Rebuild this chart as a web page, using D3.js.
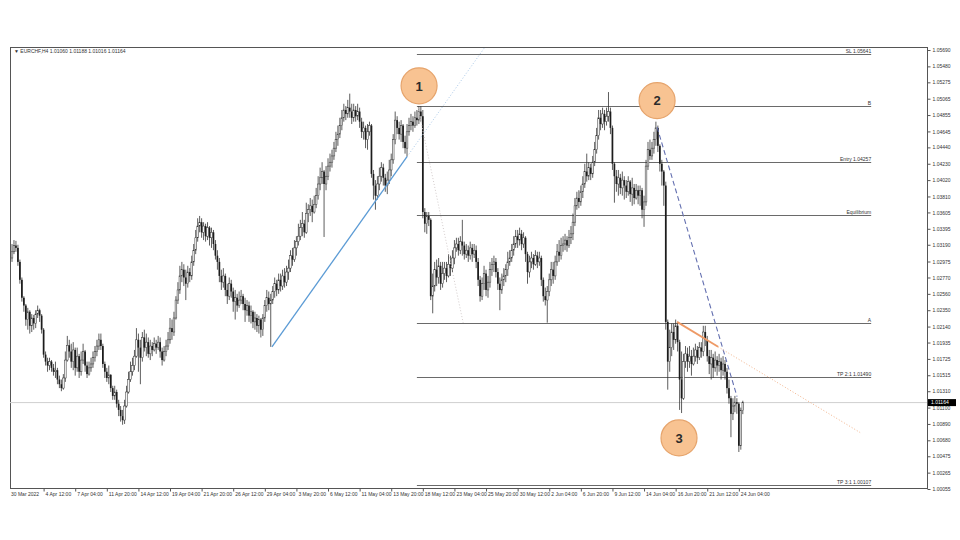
<!DOCTYPE html>
<html><head><meta charset="utf-8">
<script src="https://cdn.jsdelivr.net/npm/d3@7/dist/d3.min.js"></script>
<style>body{margin:0;background:#fff}svg{display:block}text{font-family:"Liberation Sans",Arial,sans-serif}</style>
</head><body><svg id="c" width="960" height="540"></svg>
<script>
const symbol = "EURCHF,H4";
const firstOpen = 1.0302;
const closes = [
1.0310,1.0318,1.0315,1.0297,1.0274,1.0251,1.0241,1.0223,1.0233,1.0215,
1.0225,1.0218,1.0230,1.0235,1.0228,1.0210,1.0178,1.0169,1.0164,1.0169,
1.0161,1.0156,1.0158,1.0146,1.0140,1.0135,1.0148,1.0171,1.0190,1.0182,
1.0169,1.0184,1.0161,1.0176,1.0156,1.0171,1.0182,1.0164,1.0153,1.0161,
1.0166,1.0174,1.0182,1.0189,1.0197,1.0189,1.0166,1.0156,1.0148,1.0152,
1.0135,1.0125,1.0130,1.0115,1.0107,1.0099,1.0094,1.0112,1.0130,1.0146,
1.0156,1.0164,1.0176,1.0197,1.0187,1.0174,1.0200,1.0187,1.0194,1.0179,
1.0189,1.0184,1.0192,1.0187,1.0194,1.0182,1.0171,1.0182,1.0189,1.0197,
1.0212,1.0207,1.0225,1.0248,1.0261,1.0279,1.0287,1.0277,1.0269,1.0284,
1.0279,1.0297,1.0312,1.0328,1.0343,1.0348,1.0335,1.0343,1.0330,1.0341,
1.0328,1.0335,1.0320,1.0305,1.0297,1.0279,1.0271,1.0279,1.0261,1.0253,
1.0269,1.0259,1.0246,1.0251,1.0241,1.0248,1.0253,1.0243,1.0235,1.0241,
1.0228,1.0233,1.0220,1.0225,1.0215,1.0223,1.0210,1.0225,1.0241,1.0251,
1.0243,1.0248,1.0259,1.0269,1.0261,1.0274,1.0266,1.0279,1.0271,1.0284,
1.0289,1.0305,1.0300,1.0315,1.0323,1.0330,1.0341,1.0346,1.0335,1.0359,
1.0364,1.0369,1.0361,1.0371,1.0382,1.0397,1.0405,1.0413,1.0397,1.0407,
1.0420,1.0425,1.0433,1.0443,1.0454,1.0461,1.0472,1.0482,1.0492,1.0487,
1.0495,1.0490,1.0482,1.0492,1.0484,1.0490,1.0477,1.0464,1.0469,1.0454,
1.0464,1.0472,1.0410,1.0395,1.0382,1.0397,1.0407,1.0418,1.0405,1.0395,
1.0402,1.0415,1.0428,1.0454,1.0479,1.0469,1.0461,1.0472,1.0451,1.0443,
1.0464,1.0472,1.0477,1.0472,1.0482,1.0479,1.0490,1.0484,1.0361,1.0346,
1.0356,1.0351,1.0253,1.0266,1.0287,1.0277,1.0292,1.0269,1.0282,1.0289,
1.0279,1.0294,1.0289,1.0302,1.0315,1.0320,1.0312,1.0323,1.0318,1.0307,
1.0312,1.0305,1.0315,1.0307,1.0312,1.0297,1.0274,1.0253,1.0269,1.0282,
1.0261,1.0271,1.0287,1.0294,1.0297,1.0284,1.0269,1.0261,1.0274,1.0279,
1.0287,1.0297,1.0302,1.0312,1.0320,1.0330,1.0325,1.0333,1.0320,1.0328,
1.0307,1.0284,1.0297,1.0302,1.0294,1.0305,1.0297,1.0302,1.0274,1.0253,
1.0248,1.0259,1.0274,1.0287,1.0279,1.0297,1.0310,1.0305,1.0318,1.0320,
1.0325,1.0318,1.0328,1.0333,1.0348,1.0369,1.0379,1.0374,1.0387,1.0397,
1.0413,1.0407,1.0418,1.0410,1.0425,1.0441,1.0459,1.0482,1.0474,1.0487,
1.0477,1.0484,1.0490,1.0469,1.0423,1.0407,1.0397,1.0405,1.0392,1.0402,
1.0395,1.0387,1.0400,1.0384,1.0392,1.0379,1.0389,1.0382,1.0389,1.0364,
1.0374,1.0420,1.0441,1.0433,1.0443,1.0454,1.0469,1.0446,1.0423,1.0413,
1.0395,1.0220,1.0169,1.0187,1.0207,1.0197,1.0215,1.0194,1.0146,1.0122,
1.0169,1.0179,1.0169,1.0176,1.0166,1.0176,1.0184,1.0174,1.0187,1.0182,
1.0207,1.0197,1.0176,1.0166,1.0174,1.0161,1.0171,1.0164,1.0169,1.0158,
1.0166,1.0156,1.0135,1.0122,1.0102,1.0112,1.0117,1.0115,1.0061,1.0106,
1.01164];
const highs = [
1.0320,1.0325,1.0324,1.0319,1.0300,1.0277,1.0253,1.0243,1.0238,1.0235,
1.0230,1.0229,1.0235,1.0241,1.0237,1.0230,1.0212,1.0182,1.0174,1.0174,
1.0171,1.0166,1.0169,1.0161,1.0151,1.0146,1.0153,1.0182,1.0202,1.0197,
1.0192,1.0194,1.0187,1.0187,1.0179,1.0182,1.0192,1.0184,1.0169,1.0169,
1.0174,1.0182,1.0189,1.0197,1.0205,1.0205,1.0192,1.0169,1.0161,1.0164,
1.0153,1.0138,1.0138,1.0133,1.0120,1.0112,1.0107,1.0120,1.0138,1.0156,
1.0169,1.0174,1.0184,1.0212,1.0205,1.0197,1.0207,1.0210,1.0205,1.0200,
1.0197,1.0194,1.0200,1.0197,1.0202,1.0200,1.0187,1.0189,1.0197,1.0207,
1.0225,1.0223,1.0233,1.0253,1.0271,1.0292,1.0297,1.0294,1.0287,1.0292,
1.0289,1.0305,1.0320,1.0338,1.0353,1.0356,1.0353,1.0348,1.0346,1.0348,
1.0343,1.0341,1.0338,1.0325,1.0312,1.0302,1.0287,1.0289,1.0282,1.0269,
1.0277,1.0274,1.0264,1.0261,1.0256,1.0259,1.0261,1.0256,1.0251,1.0248,
1.0246,1.0241,1.0235,1.0233,1.0230,1.0228,1.0225,1.0230,1.0248,1.0261,
1.0259,1.0256,1.0266,1.0277,1.0274,1.0282,1.0282,1.0287,1.0289,1.0292,
1.0300,1.0312,1.0315,1.0325,1.0330,1.0346,1.0351,1.0361,1.0351,1.0373,
1.0371,1.0379,1.0377,1.0382,1.0392,1.0407,1.0418,1.0425,1.0415,1.0420,
1.0430,1.0436,1.0441,1.0451,1.0464,1.0472,1.0482,1.0492,1.0500,1.0497,
1.0505,1.0513,1.0500,1.0500,1.0497,1.0500,1.0495,1.0482,1.0477,1.0472,
1.0474,1.0477,1.0474,1.0415,1.0402,1.0407,1.0418,1.0425,1.0423,1.0410,
1.0413,1.0428,1.0436,1.0461,1.0490,1.0484,1.0477,1.0479,1.0474,1.0459,
1.0474,1.0482,1.0487,1.0484,1.0490,1.0492,1.0497,1.0497,1.0492,1.0366,
1.0361,1.0361,1.0353,1.0282,1.0297,1.0300,1.0302,1.0297,1.0297,1.0297,
1.0297,1.0307,1.0305,1.0312,1.0325,1.0328,1.0328,1.0330,1.0351,1.0323,
1.0320,1.0318,1.0323,1.0320,1.0320,1.0318,1.0302,1.0279,1.0277,1.0292,
1.0287,1.0279,1.0297,1.0302,1.0305,1.0302,1.0289,1.0277,1.0282,1.0289,
1.0294,1.0310,1.0312,1.0320,1.0330,1.0338,1.0338,1.0341,1.0338,1.0335,
1.0330,1.0310,1.0305,1.0310,1.0307,1.0312,1.0310,1.0310,1.0305,1.0277,
1.0264,1.0266,1.0282,1.0297,1.0297,1.0305,1.0320,1.0325,1.0328,1.0330,
1.0333,1.0330,1.0338,1.0343,1.0359,1.0379,1.0387,1.0389,1.0395,1.0407,
1.0423,1.0436,1.0425,1.0423,1.0433,1.0451,1.0469,1.0492,1.0492,1.0495,
1.0492,1.0495,1.0515,1.0495,1.0472,1.0425,1.0415,1.0415,1.0410,1.0413,
1.0407,1.0402,1.0407,1.0402,1.0405,1.0397,1.0397,1.0395,1.0395,1.0392,
1.0382,1.0428,1.0451,1.0454,1.0451,1.0464,1.0477,1.0472,1.0448,1.0428,
1.0415,1.0400,1.0223,1.0210,1.0218,1.0218,1.0223,1.0220,1.0197,1.0182,
1.0179,1.0189,1.0187,1.0189,1.0184,1.0187,1.0192,1.0189,1.0194,1.0194,
1.0215,1.0215,1.0202,1.0184,1.0184,1.0179,1.0182,1.0176,1.0179,1.0174,
1.0176,1.0171,1.0161,1.0146,1.0125,1.0122,1.0125,1.0122,1.0117,1.0110,
1.01188];
const lows = [
1.0297,1.0307,1.0310,1.0292,1.0269,1.0246,1.0233,1.0215,1.0210,1.0205,
1.0207,1.0210,1.0212,1.0225,1.0220,1.0205,1.0174,1.0164,1.0156,1.0158,
1.0156,1.0151,1.0148,1.0140,1.0135,1.0131,1.0133,1.0143,1.0169,1.0174,
1.0161,1.0158,1.0151,1.0156,1.0148,1.0151,1.0166,1.0156,1.0148,1.0151,
1.0156,1.0161,1.0169,1.0176,1.0184,1.0184,1.0161,1.0148,1.0143,1.0140,
1.0130,1.0120,1.0120,1.0110,1.0099,1.0092,1.0088,1.0089,1.0110,1.0128,
1.0143,1.0151,1.0158,1.0174,1.0156,1.0140,1.0169,1.0182,1.0176,1.0174,
1.0171,1.0176,1.0182,1.0179,1.0184,1.0174,1.0164,1.0169,1.0176,1.0184,
1.0192,1.0197,1.0202,1.0223,1.0243,1.0256,1.0271,1.0266,1.0248,1.0264,
1.0271,1.0274,1.0292,1.0307,1.0323,1.0335,1.0328,1.0325,1.0323,1.0325,
1.0318,1.0315,1.0312,1.0300,1.0287,1.0271,1.0261,1.0264,1.0253,1.0243,
1.0248,1.0251,1.0233,1.0223,1.0233,1.0238,1.0243,1.0235,1.0220,1.0228,
1.0220,1.0218,1.0212,1.0210,1.0207,1.0205,1.0200,1.0202,1.0220,1.0233,
1.0235,1.0188,1.0243,1.0251,1.0253,1.0256,1.0259,1.0261,1.0264,1.0266,
1.0274,1.0284,1.0292,1.0297,1.0305,1.0318,1.0325,1.0330,1.0328,1.0333,
1.0348,1.0356,1.0348,1.0359,1.0366,1.0377,1.0389,1.0397,1.0329,1.0389,
1.0402,1.0413,1.0418,1.0428,1.0438,1.0446,1.0456,1.0466,1.0477,1.0479,
1.0482,1.0482,1.0474,1.0477,1.0477,1.0479,1.0469,1.0456,1.0454,1.0443,
1.0441,1.0459,1.0405,1.0377,1.0364,1.0377,1.0389,1.0400,1.0395,1.0387,
1.0384,1.0397,1.0407,1.0423,1.0448,1.0461,1.0454,1.0451,1.0443,1.0436,
1.0432,1.0459,1.0466,1.0464,1.0469,1.0472,1.0474,1.0477,1.0353,1.0335,
1.0333,1.0343,1.0248,1.0231,1.0259,1.0266,1.0269,1.0261,1.0264,1.0274,
1.0271,1.0277,1.0279,1.0284,1.0294,1.0310,1.0305,1.0307,1.0305,1.0300,
1.0302,1.0297,1.0300,1.0297,1.0302,1.0289,1.0266,1.0246,1.0248,1.0261,
1.0253,1.0251,1.0264,1.0279,1.0284,1.0277,1.0261,1.0235,1.0256,1.0266,
1.0271,1.0279,1.0292,1.0297,1.0305,1.0315,1.0315,1.0318,1.0312,1.0315,
1.0297,1.0269,1.0277,1.0289,1.0287,1.0292,1.0289,1.0292,1.0266,1.0246,
1.0241,1.0219,1.0253,1.0266,1.0269,1.0274,1.0292,1.0297,1.0300,1.0310,
1.0312,1.0310,1.0315,1.0320,1.0325,1.0343,1.0364,1.0366,1.0369,1.0379,
1.0392,1.0400,1.0402,1.0402,1.0405,1.0420,1.0436,1.0454,1.0466,1.0469,
1.0466,1.0472,1.0477,1.0461,1.0415,1.0373,1.0387,1.0382,1.0384,1.0382,
1.0377,1.0379,1.0382,1.0374,1.0369,1.0371,1.0377,1.0371,1.0369,1.0353,
1.0342,1.0369,1.0415,1.0428,1.0428,1.0436,1.0446,1.0438,1.0413,1.0395,
1.0369,1.0210,1.0133,1.0156,1.0176,1.0184,1.0192,1.0182,1.0107,1.0103,
1.0120,1.0161,1.0156,1.0161,1.0151,1.0164,1.0169,1.0166,1.0171,1.0174,
1.0176,1.0189,1.0169,1.0153,1.0146,1.0148,1.0156,1.0151,1.0156,1.0146,
1.0151,1.0146,1.0128,1.0115,1.0072,1.0094,1.0104,1.0102,1.0053,1.0056,
1.01016];

const yTicks = [1.05690,1.05480,1.05275,1.05065,1.04855,1.04645,1.04440,1.04230,1.04020,1.03810,1.03605,1.03395,1.03190,1.02975,1.02770,1.02560,1.02350,1.02140,1.01935,1.01725,1.01515,1.01310,1.01100,1.00890,1.00680,1.00475,1.00265,1.00055];
const xTickBars = [16,32,48,64,80,96,112,128,144,160,176,192,208,224,240,256,272,288,304,320,336,352,368];
const xTickLabels = ["4 Apr 12:00","7 Apr 04:00","11 Apr 20:00","14 Apr 12:00","19 Apr 04:00","21 Apr 20:00","26 Apr 12:00","29 Apr 04:00","3 May 20:00","6 May 12:00","11 May 04:00","13 May 20:00","18 May 12:00","23 May 04:00","25 May 20:00","30 May 12:00","2 Jun 04:00","6 Jun 20:00","9 Jun 12:00","14 Jun 04:00","16 Jun 20:00","21 Jun 12:00","24 Jun 04:00"];
const firstLabel = "30 Mar 2022";
const levelNames = ["SL 1.05641","B","Entry 1.04257","Equilibrium","A","TP 2:1 1.01490","TP 3:1 1.00107"];
const levelPrices = [1.05641,1.04971,1.04257,1.03578,1.02186,1.01490,1.00107];
const levelFromBar = 205, levelToBar = 435;
const trendPts = [{i:131.6,p:1.0188},{i:200,p:1.0432}];
const greyDotPts = [{i:205.6,p:1.0495},{i:228.4,p:1.0219}];
const navyDashPts = [{i:326.6,p:1.0470},{i:367.1,p:1.0124}];
const orangePts = [{i:336.7,p:1.0220},{i:357.5,p:1.0188}];
const orangeExtEnd = {i:429.4,p:1.0078};
const markers = [{label:"1",i:206.1,p:1.0523},{label:"2",i:326.6,p:1.0504},{label:"3",i:337.7,p:1.0071}];

const svg = d3.select("#c");
const L=10, T=47, R=927, B=488;
const n = Math.min(closes.length, highs.length, lows.length);
const x = d3.scaleLinear().domain([0,370]).range([12,742.8]);
const y = d3.scaleLinear().domain([1.00055,1.05690]).range([489,50]);

svg.append("rect").attr("x",L+0.5).attr("y",T+0.5).attr("width",R-L).attr("height",B-T)
  .attr("fill","none").attr("stroke","#555").attr("stroke-width",1);

const plot = svg.append("g");
const last = closes[n-1];
plot.append("line").attr("x1",L).attr("x2",R).attr("y1",y(last)).attr("y2",y(last))
  .attr("stroke","#cfcfcf").attr("stroke-width",1);

levelPrices.forEach((p,k)=>{
  plot.append("line").attr("x1",x(levelFromBar)).attr("x2",x(levelToBar))
    .attr("y1",Math.round(y(p))+0.5).attr("y2",Math.round(y(p))+0.5)
    .attr("stroke","#6a6a6a").attr("stroke-width",1);
  plot.append("text").attr("x",x(levelToBar)).attr("y",Math.round(y(p))-1.5)
    .attr("text-anchor","end").attr("font-size",5).attr("fill","#333").text(levelNames[k]);
});

const data = d3.range(n).map(i=>{
  const o = i===0 ? firstOpen : closes[i-1];
  const c = closes[i];
  return {i,o,c,h:Math.max(highs[i],o,c),l:Math.min(lows[i],o,c)};
});
const cg = plot.append("g");
cg.selectAll("line").data(data).join("line")
  .attr("x1",d=>x(d.i)).attr("x2",d=>x(d.i)).attr("y1",d=>y(d.h)).attr("y2",d=>y(d.l))
  .attr("stroke","#333").attr("stroke-width",0.8);
cg.selectAll("rect").data(data).join("rect")
  .attr("x",d=>x(d.i)-0.85).attr("width",1.7)
  .attr("y",d=>y(Math.max(d.o,d.c)))
  .attr("height",d=>Math.max(0.6,Math.abs(y(d.o)-y(d.c))))
  .attr("fill",d=>d.c>=d.o?"#f4f4f4":"#1c1c1c")
  .attr("stroke",d=>d.c>=d.o?"#333":"none").attr("stroke-width",0.5);

const line = d3.line().x(d=>x(d.i)).y(d=>y(d.p));
const topPrice = y.invert(T);
const slope = (trendPts[1].p-trendPts[0].p)/(trendPts[1].i-trendPts[0].i);
const trendExt = {i: trendPts[1].i + (topPrice-trendPts[1].p)/slope, p: topPrice};
plot.append("path").attr("d",line([trendPts[1],trendExt])).attr("fill","none")
  .attr("stroke","#a9c8e8").attr("stroke-width",1).attr("stroke-dasharray","1,2");
plot.append("path").attr("d",line(trendPts)).attr("fill","none")
  .attr("stroke","#5b9bd5").attr("stroke-width",1.3);
plot.append("path").attr("d",line(greyDotPts)).attr("fill","none")
  .attr("stroke","#d4cccc").attr("stroke-width",1).attr("stroke-dasharray","1,2");
plot.append("path").attr("d",line(navyDashPts)).attr("fill","none")
  .attr("stroke","#6470b0").attr("stroke-width",1.1).attr("stroke-dasharray","5,3");
plot.append("path").attr("d",line([orangePts[1],orangeExtEnd])).attr("fill","none")
  .attr("stroke","#f3b48c").attr("stroke-width",1).attr("stroke-dasharray","1,2");
plot.append("path").attr("d",line(orangePts)).attr("fill","none")
  .attr("stroke","#ee9a66").attr("stroke-width",1.8);

const mg = svg.append("g").selectAll("g").data(markers).join("g")
  .attr("transform",d=>`translate(${x(d.i)},${y(d.p)})`);
mg.append("circle").attr("r",18).attr("fill","#f8c392").attr("stroke","#e6a46c").attr("stroke-width",1.2);
mg.append("text").attr("text-anchor","middle").attr("dy","0.36em").attr("font-size",13)
  .attr("font-weight","bold").attr("fill","#2b2b2b").text(d=>d.label);

const ya = svg.append("g").attr("transform",`translate(${R+0.5},0)`)
  .call(d3.axisRight(y).tickValues(yTicks).tickSize(3).tickFormat(d=>d.toFixed(5)));
ya.select(".domain").remove();
ya.selectAll("line").attr("stroke","#555");
ya.selectAll("text").attr("font-size",5).attr("fill","#333").attr("x",5)
  .attr("font-family","Liberation Sans, Arial, sans-serif");

const xa = svg.append("g").attr("transform",`translate(0,${B+0.5})`)
  .call(d3.axisBottom(x).tickValues(xTickBars).tickSize(3).tickFormat((d,k)=>xTickLabels[k]));
xa.select(".domain").remove();
xa.selectAll("line").attr("stroke","#555");
xa.selectAll("text").attr("font-size",5).attr("fill","#333").attr("text-anchor","start")
  .attr("x",1.5).attr("y",4).attr("dy","0.71em")
  .attr("font-family","Liberation Sans, Arial, sans-serif");
svg.append("text").attr("x",L+1).attr("y",B+8.2).attr("font-size",5).attr("fill","#333").text(firstLabel);

svg.append("rect").attr("x",R+1).attr("y",y(last)-3.5).attr("width",28).attr("height",7).attr("fill","#000");
svg.append("text").attr("x",R+4).attr("y",y(last)+1.8).attr("font-size",5).attr("fill","#fff").text(last.toFixed(5));

const o = closes[n-2];
svg.append("text").attr("x",14).attr("y",53).attr("font-size",5).attr("fill","#333")
  .text(`\u25BC ${symbol}  ${o.toFixed(5)} ${highs[n-1].toFixed(5)} ${lows[n-1].toFixed(5)} ${last.toFixed(5)}`);
</script></body></html>
